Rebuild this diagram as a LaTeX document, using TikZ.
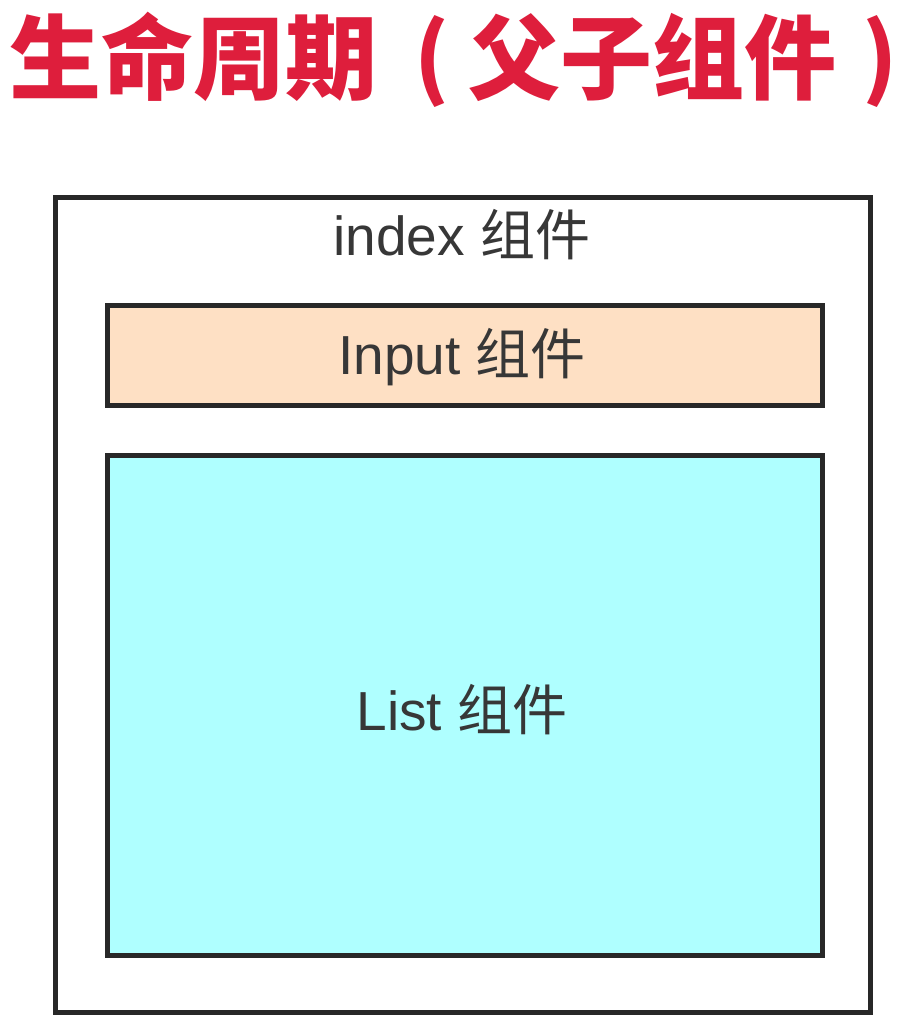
\documentclass[tikz,border=0pt]{standalone}
\usepackage{fontspec}
\setmainfont{Liberation Sans}
\newfontfamily\cjk{Noto Sans CJK SC}
\definecolor{titlered}{RGB}{222,30,60}
\definecolor{peach}{RGB}{254,224,196}
\definecolor{aqua}{RGB}{175,255,255}
\definecolor{boxline}{RGB}{40,40,40}
\definecolor{labelgray}{RGB}{55,55,55}
\begin{document}
\begin{tikzpicture}[x=1pt,y=-1pt,
  frame/.style={draw=boxline,line width=5pt},
  ttl/.style={anchor=base west,inner sep=0pt,text=titlered,font=\fontsize{92}{92}\selectfont\cjk\bfseries},
  par/.style={inner sep=0pt,text=titlered,font=\fontsize{88}{88}\selectfont\cjk\bfseries},
  lbl/.style={font=\fontsize{55}{55}\selectfont,text=labelgray,inner sep=0pt}]
\useasboundingbox[fill=white] (0,0) rectangle (906,1030);
\node[ttl] (t1) at (9,93) {生命周期};
\node[par,anchor=base west] (t2) at (414,90) {(};
\node[ttl] (t3) at (468,93) {父子组件};
\node[par,anchor=base east] (t4) at (898,90) {)};
\draw[frame] (55.5,197) rectangle (870,1012);
\draw[frame,fill=peach] (107,305) rectangle (822,405);
\draw[frame,fill=aqua] (107,455) rectangle (822,955);
\node[lbl] (index) at (462,235) {index {\cjk 组件}};
\node[lbl] (input) at (462,357) {Input {\cjk 组件}};
\node[lbl] (list) at (462,710) {List {\cjk 组件}};
\end{tikzpicture}
\end{document}
